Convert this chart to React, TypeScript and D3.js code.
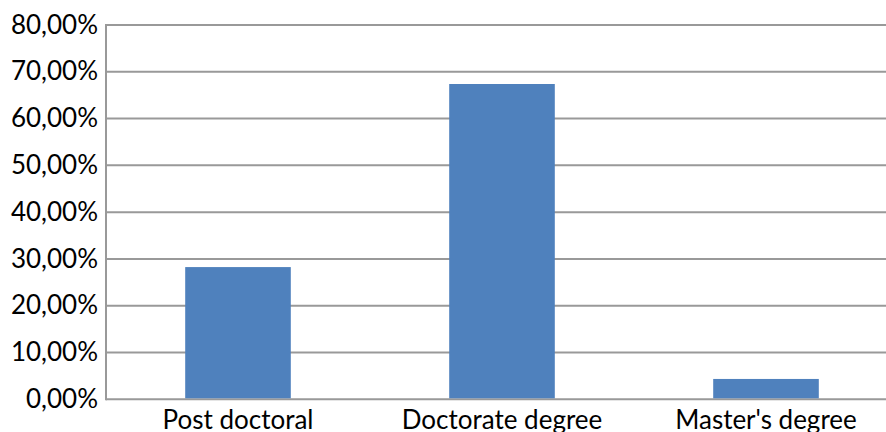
import React from "react";
import * as d3 from "d3";

const categories = ["Post doctoral", "Doctorate degree", "Master's degree"];
const values = [0.2826, 0.6739, 0.0435];
const yTicks = [0, 0.1, 0.2, 0.3, 0.4, 0.5, 0.6, 0.7, 0.8];

const W = 886;
const H = 432;
const left = 106;
const right = 898;
const top = 25;
const bottom = 399.3;

export default function App() {
  const x = d3
    .scaleBand<string>()
    .domain(categories)
    .range([left, right])
    .paddingInner(0.6)
    .paddingOuter(0.3);
  const y = d3.scaleLinear().domain([0, 0.8]).range([bottom, top]);
  const fmt = (v: number) => (v * 100).toFixed(2).replace(".", ",") + "%";
  const font = "Lato, 'Open Sans', sans-serif";

  return (
    <svg
      width={W}
      height={H}
      style={{ position: "absolute", left: 0, top: 0, background: "#fff" }}
      fontFamily={font}
    >
      {yTicks.map((t) => (
        <g key={t}>
          <line x1={left} x2={W} y1={y(t)} y2={y(t)} stroke="#999" strokeWidth={2} />
          <text
            x={98}
            y={y(t)}
            dy="0.33em"
            textAnchor="end"
            fontSize={26}
            fill="#000"
          >
            {fmt(t)}
          </text>
        </g>
      ))}
      <line x1={left} x2={left} y1={top - 1} y2={bottom + 1} stroke="#999" strokeWidth={2} />
      {categories.map((c, i) => (
        <rect
          key={c}
          x={x(c)}
          y={y(values[i])}
          width={x.bandwidth()}
          height={bottom - 1 - y(values[i])}
          fill="#4f81bd"
        />
      ))}
      {categories.map((c) => (
        <text
          key={c}
          x={(x(c) as number) + x.bandwidth() / 2}
          y={429}
          textAnchor="middle"
          fontSize={26}
          fill="#000"
        >
          {c}
        </text>
      ))}
    </svg>
  );
}
